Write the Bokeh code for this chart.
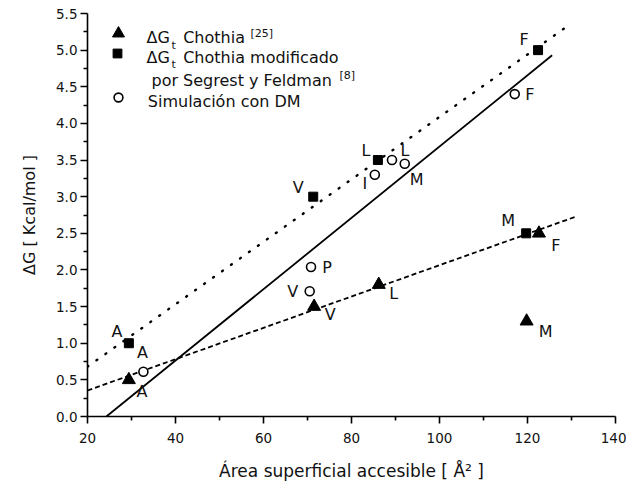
import math
from bokeh.plotting import figure
from bokeh.models import (Range1d, Label, Legend, LegendItem, NumeralTickFormatter,
                          ColumnDataSource, FixedTicker)
from bokeh.core.properties import value
from bokeh.embed import file_html
from bokeh.resources import INLINE

# ---------------- data ----------------
chothia_res = ["A", "V", "L", "M", "F"]
chothia_area = [29.4, 71.5, 86.2, 119.8, 122.6]
chothia_dg = [0.50, 1.50, 1.80, 1.30, 2.50]

segrest_res = ["A", "V", "L", "M", "F"]
segrest_area = [29.4, 71.3, 86.0, 119.7, 122.4]
segrest_dg = [1.00, 3.00, 3.50, 2.50, 5.00]

dm_res = ["A", "V", "P", "I", "L", "M", "F"]
dm_area = [32.7, 70.5, 70.8, 85.3, 89.2, 92.1, 117.1]
dm_dg = [0.61, 1.71, 2.04, 3.30, 3.50, 3.45, 4.40]

# fitted straight lines (end points)
fit_dm_x = [24.3, 125.6]
fit_dm_y = [0.0, 4.93]
fit_segrest_x = [20.0, 129.6]
fit_segrest_y = [0.68, 5.35]
fit_chothia_x = [20.0, 131.1]
fit_chothia_y = [0.355, 2.73]

x_ticks = [20, 40, 60, 80, 100, 120, 140]
y_ticks = [0.0, 0.5, 1.0, 1.5, 2.0, 2.5, 3.0, 3.5, 4.0, 4.5, 5.0, 5.5]

# ---------------- label offsets (style, pixels) ----------------
chothia_dx = [13, 16, 15, 19, 17]
chothia_dy = [12, 8, 9, 10, 12]
segrest_dx = [-12, -15, -12, -18, -14]
segrest_dy = [-12, -9, -10, -13, -11]
dm_dx = [-1, -17, 16, -10, 13, 12, 15]
dm_dy = [-19, 0, 0, 9, -10, 16, 0]

FONT = "DejaVu Sans"

p = figure(width=626, height=492, x_range=Range1d(20, 140), y_range=Range1d(0, 5.5),
           output_backend="svg", toolbar_location=None,
           min_border_left=87, min_border_right=11, min_border_top=13, min_border_bottom=76)
p.xgrid.visible = False
p.ygrid.visible = False
p.outline_line_color = None
p.background_fill_color = "white"
p.border_fill_color = "white"

x_minor = [(a + b) / 2 for a, b in zip(x_ticks[:-1], x_ticks[1:])]
y_minor = [(a + b) / 2 for a, b in zip(y_ticks[:-1], y_ticks[1:])]
p.xaxis.ticker = FixedTicker(ticks=x_ticks, minor_ticks=x_minor)
p.yaxis.ticker = FixedTicker(ticks=y_ticks, minor_ticks=y_minor)
p.yaxis.formatter = NumeralTickFormatter(format="0.0")
for ax in (p.xaxis, p.yaxis):
    ax.major_tick_in = 0
    ax.major_tick_out = 7
    ax.minor_tick_in = 0
    ax.minor_tick_out = 4
    ax.axis_line_width = 1.6
    ax.major_tick_line_width = 1.6
    ax.minor_tick_line_width = 1.6
    ax.axis_line_color = "black"
    ax.major_tick_line_color = "black"
    ax.minor_tick_line_color = "black"
    ax.major_label_text_font = FONT
    ax.major_label_text_font_size = "13.5px"
    ax.major_label_text_color = "#111111"
    ax.axis_label_text_font = FONT
    ax.axis_label_text_font_style = "normal"
    ax.axis_label_text_color = "#111111"
p.xaxis.major_label_standoff = 9
p.yaxis.major_label_standoff = 3
p.yaxis.axis_label = "ΔG [ Kcal/mol ]"
p.yaxis.axis_label_text_font_size = "16px"
p.yaxis.axis_label_standoff = 14
p.xaxis.axis_label = "Área superficial accesible [ Å² ]"
p.xaxis.axis_label_text_font_size = "17px"
p.xaxis.axis_label_standoff = 15

# ---------------- fitted lines ----------------
p.line(fit_dm_x, fit_dm_y, line_color="black", line_width=1.8)
p.line(fit_segrest_x, fit_segrest_y, line_color="black", line_width=2.4,
       line_dash="1 10", line_cap="round")
p.line(fit_chothia_x, fit_chothia_y, line_color="black", line_width=1.8, line_dash="5 3")

# ---------------- points ----------------
r_tri = p.scatter(chothia_area, chothia_dg, marker="triangle", size=13,
                  fill_color="black", line_color="black")
r_sq = p.scatter(segrest_area, segrest_dg, marker="square", size=9,
                 fill_color="black", line_color="black")
r_circ = p.scatter(dm_area, dm_dg, marker="circle", size=9, fill_color="white",
                   line_color="black", line_width=1.6)

# ---------------- point labels ----------------
for xs, ys, labs, dx, dy in [(chothia_area, chothia_dg, chothia_res, chothia_dx, chothia_dy),
                             (segrest_area, segrest_dg, segrest_res, segrest_dx, segrest_dy),
                             (dm_area, dm_dg, dm_res, dm_dx, dm_dy)]:
    src = ColumnDataSource(dict(x=xs, y=ys, t=labs, xo=dx, yo=dy))
    p.text(x="x", y="y", text="t", x_offset="xo", y_offset="yo", source=src,
           text_font=value(FONT), text_font_size="16px", text_align="center",
           text_baseline="middle", text_color="#111111")

# ---------------- legend markers ----------------
def marker_legend(r, loc, box):
    leg = Legend(items=[LegendItem(label=value(" "), renderers=[r])], location=loc,
                 glyph_width=box, glyph_height=box, padding=0, margin=0, spacing=0,
                 label_standoff=0, label_width=0, label_height=0,
                 border_line_alpha=0, background_fill_alpha=0,
                 label_text_font_size="1px")
    p.add_layout(leg)

marker_legend(r_tri, (16.3, 367.7), 30)
marker_legend(r_sq, (19.3, 351.7), 22)
marker_legend(r_circ, (20.3, 308.3), 22)

# ---------------- legend texts ----------------
def lab(x, y, text, size="16px"):
    p.add_layout(Label(x=x, y=y, x_units="screen", y_units="screen", text=text,
                       text_font=FONT, text_font_size=size, text_color="#111111",
                       text_align="left", text_baseline="alphabetic"))

lab(59, 378.7, "ΔG")
lab(84, 371, "t", "11px")
lab(95.7, 378.7, "Chothia")
lab(163, 383, "[25]", "11px")

lab(59, 358.7, "ΔG")
lab(84, 352, "t", "11px")
lab(95.7, 358.7, "Chothia modificado")

lab(64, 336, "por Segrest y Feldman")
lab(252, 341, "[8]", "11px")

lab(60.3, 315, "Simulación con DM")

open("out.html", "w").write(file_html(p, INLINE))
